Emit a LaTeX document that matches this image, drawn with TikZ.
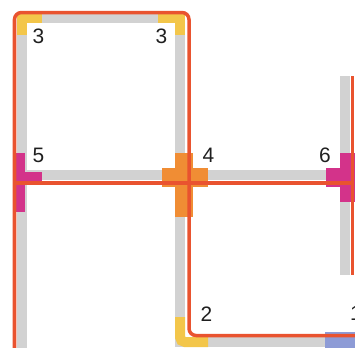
\documentclass[tikz,border=0pt]{standalone}
\usepackage{fontspec}
\setmainfont{Liberation Sans}
\definecolor{trackgrey}{HTML}{D2D2D2}
\definecolor{routered}{HTML}{E9532F}
\definecolor{gold}{HTML}{F3C64A}
\definecolor{amber}{HTML}{F08D34}
\definecolor{berry}{HTML}{D3338A}
\definecolor{lav}{HTML}{8D9BD6}
\begin{document}
\begin{tikzpicture}[x=1bp,y=-1bp,
  track/.style={draw=trackgrey,line width=10bp},
  routeline/.style={draw=routered,line width=3.5bp,rounded corners=7bp},
  cornermark/.style={draw=gold,line width=10bp},
  lbl/.style={font=\fontsize{21}{21}\selectfont,text=black!88,inner sep=0pt}]
\useasboundingbox (0,0) rectangle (355,348);
\clip (0,0) rectangle (355,348);
% grid coordinates
\coordinate (LT) at (22,18);
\coordinate (MT) at (180,18);
\coordinate (LM) at (22,175);
\coordinate (MM) at (180,175);
\coordinate (RM) at (355,175);
\coordinate (LB) at (22,350);
\coordinate (MB) at (180,342);
\coordinate (RB) at (355,342);
\coordinate (RT) at (345,76);
\coordinate (RE) at (345,275);
% grey tracks
\draw[track] (LB) -- (LT) -- (MT) -- (MB) -- (RB);
\draw[track] (LM) -- (RM);
\draw[track] (RT) -- (RE);
% markers
\draw[cornermark] (22,35) -- (LT) -- (42,18);
\draw[cornermark] (158,18) -- (MT) -- (180,35);
\draw[cornermark,rounded corners=5bp] (180,317) -- (MB) -- (208,342);
\fill[berry] (13,153) rectangle (25,212);
\fill[berry] (13,172) rectangle (42,185);
\fill[amber] (175,153) rectangle (193,217);
\fill[amber] (162,168) rectangle (208,187);
\fill[berry] (340,153) rectangle (355,202);
\fill[berry] (326,168) rectangle (355,187);
\fill[lav] (325,332) rectangle (355,348);
% red route
\coordinate (r1) at (14.5,350);
\coordinate (r2) at (14.5,12.5);
\coordinate (r3) at (189,12.5);
\coordinate (r4) at (189,335.5);
\coordinate (r5) at (357,335.5);
\coordinate (h1) at (14.5,183);
\coordinate (h2) at (352.5,183);
\coordinate (v1) at (352.5,76);
\coordinate (v2) at (352.5,275);
\draw[routeline] (r1) -- (r2) -- (r3) -- (r4) -- (r5);
\draw[routeline] (h1) -- (h2);
\draw[routeline] (v1) -- (v2);
% labels
\node[lbl] (l3a) at (38.5,36) {3};
\node[lbl] (l3b) at (161.5,36) {3};
\node[lbl] (l5) at (38.5,155) {5};
\node[lbl] (l4) at (208.5,155) {4};
\node[lbl] (l6) at (325,155) {6};
\node[lbl] (l2) at (206.5,314) {2};
\node[lbl] (l1) at (356,313) {1};
\end{tikzpicture}
\end{document}
